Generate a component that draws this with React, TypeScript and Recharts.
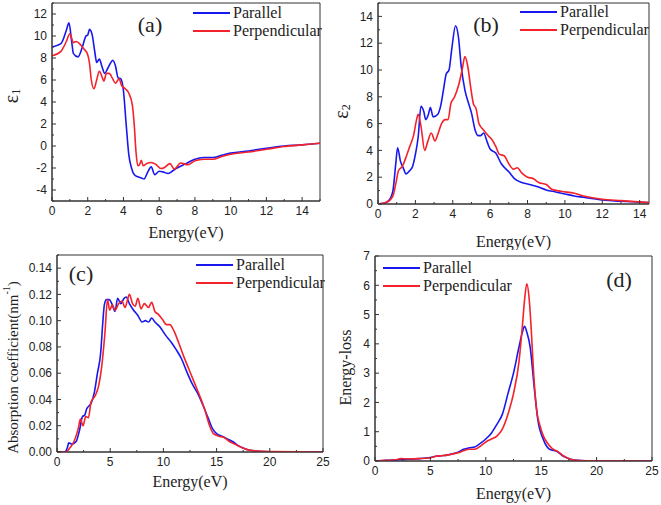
import React from 'react';
import { LineChart, Line, XAxis, YAxis, Legend, ReferenceArea } from 'recharts';

const BLUE = '#1818ee';
const RED = '#f4222a';
const AXIS = '#333333';
const SERIF = '"Liberation Serif", "Times New Roman", serif';
const SANS = '"Liberation Sans", Arial, sans-serif';
const TICK_GAP = 5;

// (a) real part of dielectric function
const aParE = [0, 0.5, 0.8, 0.95, 1.1, 1.2, 1.45, 1.7, 1.9, 2.0, 2.1, 2.25, 2.4, 2.5, 2.65, 2.8, 2.95, 3.1, 3.3, 3.4, 3.55, 3.7, 3.85, 4.0, 4.15, 4.3, 4.45, 4.6, 4.8, 5.0, 5.15, 5.35, 5.55, 5.75, 6.0, 6.2, 6.5, 6.8, 7.0, 7.5, 8.0, 8.5, 9.0, 9.5, 10, 11, 12, 13, 14, 15];
const aParV = [9.0, 9.3, 10.5, 11.2, 9.5, 8.4, 8.1, 9.0, 10.0, 10.1, 10.6, 10.1, 8.5, 7.6, 7.9, 7.2, 6.6, 7.0, 7.6, 7.8, 7.3, 6.2, 6.1, 5.0, 2.0, -0.8, -2.0, -2.6, -2.8, -2.9, -3.0, -2.4, -1.9, -2.6, -2.3, -2.35, -2.5, -2.2, -2.0, -1.6, -1.2, -1.05, -1.05, -0.85, -0.65, -0.45, -0.2, 0.0, 0.1, 0.25];
const aPerE = [0, 0.5, 0.8, 1.0, 1.2, 1.35, 1.6, 1.8, 2.0, 2.1, 2.2, 2.35, 2.5, 2.65, 2.8, 2.9, 3.05, 3.2, 3.4, 3.55, 3.75, 3.9, 4.1, 4.3, 4.5, 4.6, 4.7, 4.8, 4.9, 5.0, 5.1, 5.3, 5.55, 5.8, 6.1, 6.3, 6.6, 6.85, 7.2, 7.6, 8.0, 8.5, 9.0, 9.5, 10, 11, 12, 13, 14, 15];
const aPerV = [8.2, 8.6, 9.5, 10.2, 9.4, 9.5, 9.2, 8.8, 8.3, 7.5, 6.0, 5.2, 6.0, 6.8, 6.3, 5.9, 6.6, 6.6, 6.1, 5.7, 6.1, 5.5, 5.2, 4.8, 3.7, 2.0, -0.5, -1.8, -1.7, -1.3, -1.8, -1.6, -1.5, -1.65, -2.05, -1.95, -1.6, -2.1, -1.55, -1.7, -1.35, -1.2, -1.2, -0.95, -0.75, -0.55, -0.3, -0.05, 0.1, 0.25];

// (b) imaginary part
const bParE = [0, 0.3, 0.6, 0.8, 0.95, 1.05, 1.2, 1.35, 1.5, 1.7, 1.85, 2.0, 2.15, 2.3, 2.45, 2.55, 2.7, 2.8, 2.95, 3.2, 3.35, 3.5, 3.65, 3.8, 3.95, 4.15, 4.3, 4.45, 4.65, 4.85, 5.0, 5.2, 5.35, 5.5, 5.65, 5.85, 6.0, 6.3, 6.6, 7.0, 7.3, 7.7, 8.0, 8.5, 9.0, 9.5, 10, 10.5, 11, 12, 13, 14.5];
const bParV = [0, 0.05, 0.3, 1.0, 3.0, 4.2, 3.2, 2.7, 2.25, 2.5, 2.8, 3.7, 5.0, 7.3, 6.9, 6.3, 6.7, 7.2, 6.5, 6.7, 7.3, 8.5, 9.7, 10.0, 11.6, 13.3, 12.5, 10.3, 8.5, 7.5, 6.8, 5.5, 5.1, 5.1, 5.3, 4.6, 4.1, 3.8, 3.0, 2.4, 1.9, 1.6, 1.5, 1.3, 1.05, 0.9, 0.75, 0.6, 0.5, 0.3, 0.2, 0.1];
const bPerE = [0, 0.5, 0.8, 0.95, 1.1, 1.3, 1.5, 1.7, 1.9, 2.05, 2.15, 2.3, 2.5, 2.65, 2.85, 3.05, 3.2, 3.4, 3.6, 3.75, 3.9, 4.1, 4.3, 4.5, 4.65, 4.8, 4.95, 5.1, 5.25, 5.4, 5.6, 5.9, 6.1, 6.3, 6.5, 6.75, 7.0, 7.25, 7.45, 7.7, 8.0, 8.3, 8.6, 9.0, 9.3, 9.8, 10.5, 11, 12, 13, 14.5];
const bPerV = [0, 0.15, 0.6, 1.5, 2.5, 2.8, 3.5, 4.3, 5.1, 6.2, 6.7, 5.8, 4.0, 4.6, 5.3, 4.7, 5.2, 6.0, 6.3, 6.3, 7.5, 8.0, 8.8, 10.0, 11.0, 10.3, 8.8, 7.5, 7.1, 6.0, 5.6, 5.1, 4.8, 4.3, 3.7, 3.6, 3.0, 2.6, 2.7, 2.3, 2.0, 1.9, 1.6, 1.45, 1.1, 0.95, 0.8, 0.6, 0.35, 0.25, 0.1];

// (c) absorption coefficient
const cParE = [0, 0.7, 1.0, 1.1, 1.4, 1.8, 2.1, 2.4, 2.6, 2.8, 3.0, 3.2, 3.5, 3.8, 4.1, 4.3, 4.45, 4.65, 4.9, 5.2, 5.45, 5.7, 6.0, 6.3, 6.5, 6.8, 7.2, 7.6, 8.0, 8.3, 8.6, 8.9, 9.2, 9.7, 10.2, 10.7, 11.2, 11.7, 12.2, 12.7, 13.2, 13.7, 14.2, 14.6, 15.0, 15.5, 16.0, 16.5, 17.0, 17.5, 18.0, 19.0, 20, 25];
const cParV = [0, 0, 0.004, 0.007, 0.006, 0.008, 0.016, 0.027, 0.028, 0.033, 0.035, 0.037, 0.045, 0.06, 0.075, 0.098, 0.112, 0.116, 0.116, 0.112, 0.107, 0.117, 0.113, 0.117, 0.118, 0.113, 0.108, 0.104, 0.099, 0.1, 0.099, 0.102, 0.099, 0.095, 0.089, 0.084, 0.078, 0.071, 0.061, 0.052, 0.045, 0.036, 0.026, 0.018, 0.014, 0.012, 0.01, 0.008, 0.005, 0.003, 0.0015, 0.0005, 0.0002, 0];
const cPerE = [0, 0.8, 1.2, 1.6, 2.0, 2.2, 2.45, 2.7, 2.95, 3.2, 3.6, 3.9, 4.2, 4.5, 4.75, 4.95, 5.2, 5.45, 5.8, 6.1, 6.4, 6.6, 6.8, 7.1, 7.35, 7.6, 7.9, 8.2, 8.6, 8.9, 9.2, 9.5, 9.9, 10.3, 10.6, 11.0, 11.4, 11.9, 12.4, 12.9, 13.4, 13.9, 14.3, 14.7, 15.2, 15.7, 16.2, 16.7, 17.2, 17.8, 18.5, 20, 25];
const cPerV = [0, 0, 0.003, 0.008, 0.018, 0.025, 0.02, 0.027, 0.026, 0.038, 0.043, 0.05, 0.065, 0.09, 0.116, 0.108, 0.112, 0.108, 0.113, 0.115, 0.11, 0.115, 0.12, 0.113, 0.111, 0.117, 0.109, 0.113, 0.11, 0.114, 0.107, 0.105, 0.101, 0.097, 0.097, 0.092, 0.084, 0.073, 0.063, 0.053, 0.043, 0.032, 0.021, 0.014, 0.012, 0.011, 0.008, 0.006, 0.004, 0.002, 0.001, 0.0003, 0];

// (d) energy loss
const dParE = [0, 1, 2, 2.3, 3, 4, 5, 5.5, 6, 6.5, 7, 7.5, 8, 8.5, 9, 9.5, 10, 10.5, 11, 11.5, 12, 12.5, 13, 13.3, 13.5, 13.7, 14.0, 14.4, 14.7, 15.2, 15.8, 16.4, 17.0, 17.6, 18.2, 19, 25];
const dParV = [0, 0.02, 0.04, 0.05, 0.06, 0.08, 0.12, 0.16, 0.18, 0.2, 0.25, 0.3, 0.4, 0.45, 0.48, 0.6, 0.75, 0.95, 1.25, 1.6, 2.3, 3.0, 3.9, 4.4, 4.6, 4.4, 3.9, 2.4, 1.4, 0.73, 0.39, 0.33, 0.16, 0.07, 0.02, 0.01, 0];
const dPerE = [0, 1, 2, 2.3, 3, 4, 5, 5.5, 6, 6.5, 7, 7.5, 8, 8.5, 9, 9.5, 10, 10.5, 11, 11.5, 12, 12.5, 13, 13.3, 13.5, 13.7, 13.9, 14.1, 14.3, 14.6, 14.9, 15.2, 15.5, 16, 16.5, 17, 17.5, 18, 19, 25];
const dPerV = [0, 0.02, 0.05, 0.08, 0.07, 0.08, 0.11, 0.16, 0.18, 0.2, 0.24, 0.28, 0.35, 0.4, 0.4, 0.5, 0.65, 0.75, 0.85, 1.1, 1.6, 2.3, 3.4, 4.6, 5.5, 6.05, 5.6, 4.5, 3.1, 1.7, 1.2, 0.85, 0.65, 0.42, 0.32, 0.18, 0.08, 0.03, 0.01, 0];

const pts = (es, vs) => es.map((e, i) => ({ e, v: vs[i] }));
const steps = (from, to, step) => {
  const out = [];
  const n = Math.round((to - from) / step);
  for (let i = 0; i <= n; i++) out.push(Math.round((from + i * step) * 1000) / 1000);
  return out;
};

const XTick = ({ x, y, payload, isMajor }) => {
  const v = payload.value;
  const major = isMajor(v);
  const ay = y - TICK_GAP;
  return (
    <g>
      <line x1={x} y1={ay} x2={x} y2={ay - (major ? 4 : 2)} stroke={AXIS} />
      {major && (
        <text x={x} y={y} dy="0.71em" textAnchor="middle" fontFamily={SANS} fontSize={12} fill="#222">
          {v}
        </text>
      )}
    </g>
  );
};

const YTick = ({ x, y, payload, isMajor, fmt }) => {
  const v = payload.value;
  const major = isMajor(v);
  const ax = x + TICK_GAP;
  return (
    <g>
      <line x1={ax} y1={y} x2={ax + (major ? 4 : 2)} y2={y} stroke={AXIS} />
      {major && (
        <text x={x} y={y} dy="0.355em" textAnchor="end" fontFamily={SANS} fontSize={12} fill="#222">
          {fmt ? fmt(v) : v}
        </text>
      )}
    </g>
  );
};

const LegendBox = ({ payload }) => (
  <div>
    {(payload || []).map((p) => (
      <div key={p.value} style={{ display: 'flex', alignItems: 'center', height: 18 }}>
        <svg width={37} height={4}>
          <line x1={0} y1={2} x2={37} y2={2} stroke={p.color} strokeWidth={2} />
        </svg>
        <span style={{ marginLeft: 3, fontFamily: SERIF, fontSize: 16, color: '#222', lineHeight: '18px' }}>{p.value}</span>
      </div>
    ))}
  </div>
);

const Panel = (p) => {
  const xTitle = ({ viewBox }) => (
    <text x={viewBox.x + viewBox.width / 2} y={viewBox.y + p.xTitleDy} dominantBaseline="central" textAnchor="middle" fontFamily={SERIF} fontSize={16} fill="#222">
      Energy(eV)
    </text>
  );
  const yTitle = ({ viewBox }) => {
    const cx = p.yTitleX;
    const cy = viewBox.y + viewBox.height / 2 + p.yTitleShift;
    return (
      <text x={cx} y={cy} transform={`rotate(-90, ${cx}, ${cy})`} dominantBaseline="central" textAnchor="middle" fontFamily={SERIF} fontSize={p.yTitleSize} fill="#222">
        {p.yTitle}
      </text>
    );
  };
  return (
    <div style={{ position: 'absolute', left: p.left, top: p.top }}>
      <LineChart width={p.width} height={p.height} margin={p.margin}>
        <XAxis
          dataKey="e"
          type="number"
          domain={p.xDomain}
          ticks={p.xTicks}
          interval={0}
          allowDataOverflow
          height={p.xHeight}
          tickSize={0}
          tickMargin={TICK_GAP}
          axisLine={{ stroke: AXIS }}
          tick={<XTick isMajor={p.xMajor} />}
          label={{ content: xTitle }}
        />
        <YAxis
          type="number"
          domain={p.yDomain}
          ticks={p.yTicks}
          interval={0}
          allowDataOverflow
          width={p.yWidth}
          tickSize={0}
          tickMargin={TICK_GAP}
          axisLine={{ stroke: AXIS }}
          tick={<YTick isMajor={p.yMajor} fmt={p.yFmt} />}
          label={{ content: yTitle }}
        />
        <ReferenceArea x1={p.xDomain[0]} x2={p.xDomain[1]} y1={p.yDomain[0]} y2={p.yDomain[1]} fill="none" fillOpacity={0} stroke={AXIS} strokeWidth={1} />
        <Legend
          layout="vertical"
          align="center"
          verticalAlign="middle"
          content={<LegendBox />}
          wrapperStyle={{ top: p.legendTop, left: p.legendLeft, width: 150 }}
        />
        <Line data={p.par} dataKey="v" name="Parallel" type="monotone" stroke={BLUE} strokeWidth={1.6} dot={false} isAnimationActive={false} />
        <Line data={p.per} dataKey="v" name="Perpendicular" type="monotone" stroke={RED} strokeWidth={1.6} dot={false} isAnimationActive={false} />
      </LineChart>
      <div style={{ position: 'absolute', left: p.tagX, top: p.tagY, transform: 'translate(-50%, -50%)', fontFamily: SERIF, fontSize: 22, color: '#222', whiteSpace: 'nowrap' }}>
        {p.tag}
      </div>
    </div>
  );
};

const even = (v) => Math.round(v) % 2 === 0;
const five = (v) => Math.abs(v % 5) < 1e-6;
const intv = (v) => Math.abs(v - Math.round(v)) < 1e-6;

export default function App() {
  return (
    <div style={{ position: 'absolute', left: 0, top: 0, width: 661, height: 505, background: '#fff', overflow: 'hidden' }}>
      <Panel
        left={0} top={0} width={330} height={250}
        margin={{ top: 3, right: 10, left: 0, bottom: 0 }}
        yWidth={52} xHeight={49}
        xDomain={[0, 15]} yDomain={[-5, 13]}
        xTicks={steps(0, 15, 1)} yTicks={steps(-5, 13, 1)}
        xMajor={even} yMajor={even}
        par={pts(aParE, aParV)} per={pts(aPerE, aPerV)}
        legendTop={4} legendLeft={193}
        tag="(a)" tagX={150} tagY={25}
        xTitleDy={31}
        yTitle={<><tspan>ε</tspan><tspan fontSize={12} dy={5}>1</tspan></>}
        yTitleX={11} yTitleShift={-6} yTitleSize={20}
      />
      <Panel
        left={330} top={0} width={331} height={250}
        margin={{ top: 3, right: 12, left: 0, bottom: 0 }}
        yWidth={48} xHeight={46}
        xDomain={[0, 14.5]} yDomain={[0, 15]}
        xTicks={steps(0, 14, 1)} yTicks={steps(0, 15, 1)}
        xMajor={even} yMajor={even}
        par={pts(bParE, bParV)} per={pts(bPerE, bPerV)}
        legendTop={3} legendLeft={190}
        tag="(b)" tagX={156} tagY={25}
        xTitleDy={37}
        yTitle={<><tspan>ε</tspan><tspan fontSize={12} dy={5}>2</tspan></>}
        yTitleX={11} yTitleShift={8} yTitleSize={20}
      />
      <Panel
        left={0} top={250} width={330} height={255}
        margin={{ top: 5, right: 7, left: 0, bottom: 0 }}
        yWidth={57} xHeight={53}
        xDomain={[0, 25]} yDomain={[0, 0.15]}
        xTicks={steps(0, 25, 2.5)} yTicks={steps(0, 0.15, 0.01)}
        xMajor={five} yMajor={(v) => Math.round(v * 100) % 2 === 0}
        yFmt={(v) => v.toFixed(2)}
        par={pts(cParE, cParV)} per={pts(cPerE, cPerV)}
        legendTop={6} legendLeft={196}
        tag="(c)" tagX={81} tagY={24}
        xTitleDy={29}
        yTitle={<><tspan>Absorption coefficient(nm</tspan><tspan fontSize={10} dy={-7}>-1</tspan><tspan dy={7}>)</tspan></>}
        yTitleX={13} yTitleShift={14} yTitleSize={15}
      />
      <Panel
        left={330} top={250} width={331} height={255}
        margin={{ top: 6, right: 9, left: 0, bottom: 0 }}
        yWidth={45} xHeight={44}
        xDomain={[0, 25]} yDomain={[0, 7]}
        xTicks={steps(0, 25, 2.5)} yTicks={steps(0, 7, 0.5)}
        xMajor={five} yMajor={intv}
        par={pts(dParE, dParV)} per={pts(dPerE, dPerV)}
        legendTop={9} legendLeft={53}
        tag="(d)" tagX={289} tagY={30}
        xTitleDy={32}
        yTitle="Energy-loss"
        yTitleX={15} yTitleShift={9} yTitleSize={16}
      />
    </div>
  );
}
